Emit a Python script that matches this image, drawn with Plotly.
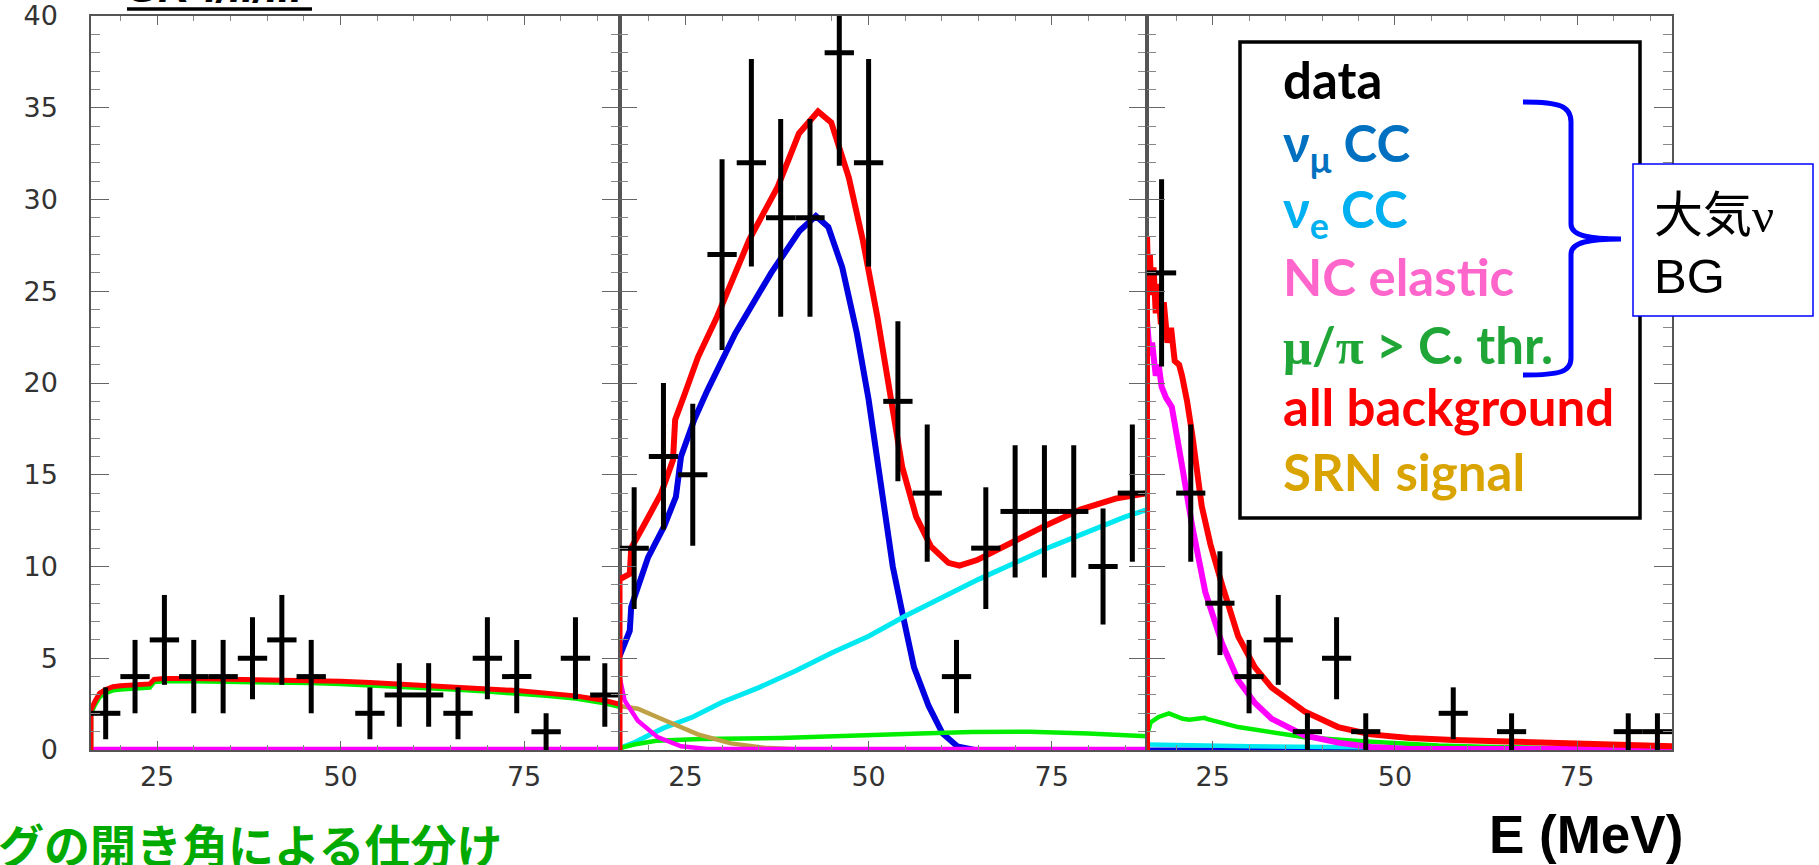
import numpy as np
import plotly.graph_objects as go

W, H = 1819, 865

# ---------------- data ----------------
E_CENTERS = [18, 22, 26, 30, 34, 38, 42, 46, 50, 54, 58, 62, 66, 70, 74, 78, 82, 86]
BIN_HALF_WIDTH = 2

DATA_P1 = [2, 4, 6, 4, 4, 5, 6, 4, 0, 2, 3, 3, 2, 5, 4, 1, 5, 3]
DATA_P2 = [11, 16, 15, 27, 32, 29, 29, 38, 32, 19, 14, 4, 11, 13, 13, 13, 10, 14]
DATA_P3 = [26, 14, 8, 4, 6, 1, 5, 1, 0, 0, 2, 0, 1, 0, 0, 0, 1, 1]

# panel 1 curves
P1_X = [16, 16, 16.6, 17.2, 18, 19, 20, 22, 24, 24.6, 26, 30, 34, 38, 42, 46, 50, 54, 58, 62, 66, 70, 74, 78, 82, 86, 88]
P1_RED = [0, 2.2, 2.7, 3.1, 3.3, 3.45, 3.5, 3.55, 3.6, 3.85, 3.9, 3.9, 3.88, 3.86, 3.83, 3.8, 3.74, 3.68, 3.6, 3.52, 3.44, 3.34, 3.24, 3.1, 2.95, 2.7, 2.5]
P1_GREEN = [0, 2.0, 2.5, 2.9, 3.1, 3.25, 3.3, 3.35, 3.4, 3.7, 3.75, 3.75, 3.73, 3.71, 3.68, 3.65, 3.59, 3.53, 3.45, 3.37, 3.29, 3.19, 3.09, 2.95, 2.8, 2.55, 2.35]
P1_FLAT_X = [16, 88]
P1_MAGENTA = [0.06, 0.06]
P1_CYAN = [0.03, 0.03]
P1_BLUE = [0.01, 0.01]

# panel 2 curves
P2_RED_X = [16, 16, 17.4, 17.6, 19.4, 21.7, 23.3, 23.6, 24.9, 26.7, 29.3, 33.7, 37.6, 40.5, 43.1, 44.9, 47.3, 49.2, 51.2, 53.0, 54.6, 56.5, 58.5, 60.9, 62.4, 64.8, 69.2, 74.0, 78.9, 83.7, 88]
P2_RED = [0, 9.3, 9.6, 11.0, 12.3, 14.0, 15.8, 18.0, 19.4, 21.4, 23.6, 27.8, 30.7, 33.6, 34.8, 34.2, 31.2, 27.8, 23.6, 19.1, 15.4, 12.7, 11.1, 10.2, 10.05, 10.35, 11.25, 12.2, 13.1, 13.7, 14.0]
P2_BLUE_X = [16, 17.4, 17.6, 19.9, 22.1, 23.7, 24.4, 26.2, 28.0, 31.8, 36.7, 40.6, 42.8, 44.5, 46.4, 48.4, 50.0, 51.3, 53.3, 54.7, 56.2, 58.2, 60.1, 62.1, 64.5, 88]
P2_BLUE = [5.1, 6.5, 7.8, 10.5, 12.2, 13.8, 16.0, 18.0, 19.6, 22.7, 26.0, 28.3, 29.1, 28.5, 26.3, 22.7, 19.1, 15.4, 10.0, 7.3, 4.5, 2.4, 0.9, 0.2, 0.0, 0.0]
P2_CYAN_X = [16, 18, 20, 22, 26, 30, 35, 40, 45, 50, 55, 60, 65, 70, 75, 80, 85, 88]
P2_CYAN = [0.1, 0.4, 0.8, 1.2, 1.8, 2.6, 3.4, 4.3, 5.3, 6.2, 7.3, 8.3, 9.3, 10.2, 11.1, 11.9, 12.7, 13.1]
P2_MAGENTA_X = [16, 16.7, 18.5, 21.2, 24.4, 28, 88]
P2_MAGENTA = [4.0, 2.7, 1.6, 0.7, 0.2, 0.06, 0.06]
P2_GREEN_X = [16, 18, 21, 27, 38, 48, 57, 64, 72, 80, 88]
P2_GREEN = [0.1, 0.3, 0.5, 0.6, 0.65, 0.75, 0.9, 0.98, 1.0, 0.9, 0.75]
P2_GOLD_X = [16, 18.5, 22, 26.7, 31.2, 35.8, 40, 48]
P2_GOLD = [2.4, 2.25, 1.65, 0.85, 0.36, 0.12, 0.04, 0.0]

# panel 3 curves
P3_RED_X = [16, 16, 16.2, 16.4, 16.6, 16.9, 17.2, 17.5, 17.9, 18.3, 18.8, 19.3, 19.8, 20.4, 20.8, 21.5, 22.2, 23.5, 24.7, 26.3, 28.5, 30.8, 33.1, 37.6, 42.2, 46.7, 52, 58, 66, 74, 82, 88]
P3_RED = [0, 28.0, 25.0, 27.0, 24.8, 26.3, 23.8, 25.4, 23.2, 24.4, 22.2, 23.0, 21.2, 21.0, 20.4, 19.0, 17.2, 13.3, 11.2, 9.0, 6.2, 4.5, 3.4, 2.1, 1.25, 0.85, 0.65, 0.55, 0.45, 0.4, 0.3, 0.2]
P3_MAGENTA_X = [16, 16.4, 16.7, 17.2, 17.6, 18.0, 18.6, 19.4, 20.8, 22.2, 24.0, 26.3, 28.5, 30.8, 33.1, 37.6, 42.2, 46.7, 52, 88]
P3_MAGENTA = [23.4, 21.5, 22.2, 20.4, 21.0, 19.8, 19.2, 18.7, 15.5, 12.2, 8.6, 5.8, 3.8, 2.56, 1.7, 0.8, 0.4, 0.16, 0.06, 0.05]
P3_GREEN_X = [16, 16.5, 17.6, 19.0, 20.9, 21.8, 23.9, 24.2, 28.5, 32.7, 37.6, 44.4, 50, 56, 62, 70, 80, 88]
P3_GREEN = [0.8, 1.5, 1.8, 2.0, 1.7, 1.65, 1.75, 1.7, 1.25, 1.0, 0.7, 0.5, 0.35, 0.25, 0.18, 0.1, 0.05, 0.02]
P3_CYAN_X = [16, 30, 60, 88]
P3_CYAN = [0.3, 0.2, 0.1, 0.05]
P3_BLUE_X = [16, 88]
P3_BLUE = [0.02, 0.0]

X_RANGE = [16, 88]
Y_RANGE = [0, 40]
X_MAJOR_TICKS = [25, 50, 75]
X_MINOR_TICKS = [20, 25, 30, 35, 40, 45, 50, 55, 60, 65, 70, 75, 80, 85]

LEGEND_ITEMS = [
    ("<b>data</b>", "#000000"),
    ("<b>ν<sub>μ</sub> CC</b>", "#0070C0"),
    ("<b>ν<sub>e</sub> CC</b>", "#00B0F0"),
    ("<b>NC elastic</b>", "#FF66CC"),
    ("<b><span style='font-family:Liberation Serif'>μ</span>/<span style='font-family:Liberation Serif'>π</span> &gt; C. thr.</b>", "#1FA637"),
    ("<b>all background</b>", "#FF0000"),
    ("<b>SRN signal</b>", "#D9A300"),
]

# colours
C_RED = "#FF0000"
C_BLUE = "#0000E0"
C_CYAN = "#00E8F0"
C_MAGENTA = "#FF00FF"
C_GREEN = "#00EE00"
C_GOLD = "#BFA145"


def px(p):
    return p / W


def py(p):
    return 1 - p / H


fig = go.Figure()

PANEL_EDGES = [91, 619.5, 1147, 1672]
Y_DOM = [py(750), py(16)]


def add_line(x, y, color, width, k):
    fig.add_trace(go.Scatter(x=x, y=y, mode="lines", line=dict(color=color, width=width),
                             xaxis="x" if k == 1 else f"x{k}", yaxis="y" if k == 1 else f"y{k}",
                             hoverinfo="skip"))


def add_data(vals, k):
    xs = [e for e, v in zip(E_CENTERS, vals) if v > 0]
    ys = [v for v in vals if v > 0]
    fig.add_trace(go.Scatter(
        x=xs, y=ys, mode="markers", marker=dict(size=1, color="black"),
        error_x=dict(type="data", array=[BIN_HALF_WIDTH] * len(xs), color="black", thickness=5, width=0),
        error_y=dict(type="data", array=list(np.sqrt(ys)), color="black", thickness=5, width=0),
        xaxis="x" if k == 1 else f"x{k}", yaxis="y" if k == 1 else f"y{k}", hoverinfo="skip"))


# panel 1
add_line(P1_FLAT_X, P1_BLUE, C_BLUE, 4, 1)
add_line(P1_FLAT_X, P1_CYAN, C_CYAN, 4, 1)
add_line(P1_X, P1_GREEN, C_GREEN, 4.5, 1)
add_line(P1_FLAT_X, P1_MAGENTA, C_MAGENTA, 4.5, 1)
add_line(P1_X, P1_RED, C_RED, 5, 1)
add_data(DATA_P1, 1)

# panel 2
add_line(P2_BLUE_X, P2_BLUE, C_BLUE, 6, 2)
add_line(P2_CYAN_X, P2_CYAN, C_CYAN, 5, 2)
add_line(P2_GREEN_X, P2_GREEN, C_GREEN, 4.5, 2)
add_line(P2_GOLD_X, P2_GOLD, C_GOLD, 4.5, 2)
add_line(P2_MAGENTA_X, P2_MAGENTA, C_MAGENTA, 4.5, 2)
add_line(P2_RED_X, P2_RED, C_RED, 6, 2)
add_data(DATA_P2, 2)

# panel 3
add_line(P3_BLUE_X, P3_BLUE, C_BLUE, 4.5, 3)
add_line(P3_CYAN_X, P3_CYAN, C_CYAN, 4.5, 3)
add_line(P3_GREEN_X, P3_GREEN, C_GREEN, 4.5, 3)
add_line(P3_MAGENTA_X, P3_MAGENTA, C_MAGENTA, 6, 3)
add_line(P3_RED_X, P3_RED, C_RED, 6, 3)
add_data(DATA_P3, 3)

tick_font = dict(family="DejaVu Sans, Liberation Sans, sans-serif", size=27, color="#333333")

layout = dict(width=W, height=H, margin=dict(l=0, r=0, t=0, b=0, autoexpand=False),
              paper_bgcolor="white", plot_bgcolor="white", showlegend=False)

for k in range(1, 4):
    xname = "xaxis" if k == 1 else f"xaxis{k}"
    yname = "yaxis" if k == 1 else f"yaxis{k}"
    layout[xname] = dict(
        domain=[px(PANEL_EDGES[k - 1]), px(PANEL_EDGES[k])], range=X_RANGE,
        anchor="y" if k == 1 else f"y{k}", automargin=False,
        showline=True, linecolor="#555555", linewidth=1.5, mirror="ticks",
        ticks="inside", tickmode="array", tickvals=X_MAJOR_TICKS, ticklen=9, tickwidth=1.3,
        tickcolor="#666666", showgrid=False, zeroline=False, tickfont=tick_font,
        ticklabelstandoff=2,
        minor=dict(tickmode="array", tickvals=X_MINOR_TICKS, ticks="inside", ticklen=5,
                   tickwidth=1, tickcolor="#888888", showgrid=False),
    )
    layout[yname] = dict(
        domain=Y_DOM, range=Y_RANGE, anchor="x" if k == 1 else f"x{k}", automargin=False,
        showline=True, linecolor="#555555", linewidth=1.5, mirror="ticks",
        ticks="inside", dtick=5, tick0=0, ticklen=18, tickwidth=1.3, tickcolor="#666666",
        showgrid=False, zeroline=False, tickfont=tick_font, showticklabels=(k == 1),
        ticklabelstandoff=26,
        minor=dict(dtick=1, tick0=0, ticks="inside", ticklen=9, tickwidth=1,
                   tickcolor="#888888", showgrid=False),
    )

fig.update_layout(**layout)

# ---------------- overlays ----------------
shapes = []
# legend box
shapes.append(dict(type="rect", xref="paper", yref="paper", x0=px(1240), x1=px(1640),
                   y0=py(518), y1=py(42), line=dict(color="black", width=3.5), fillcolor="white",
                   layer="above"))


def path_px(points):
    s = ""
    for cmd, pts in points:
        s += cmd + " " + " ".join(f"{px(a):.5f},{py(b):.5f}" for a, b in pts) + " "
    return s.strip()


bracket = path_px([
    ("M", [(1523, 102)]),
    ("C", [(1560, 102), (1571, 106), (1571, 122)]),
    ("L", [(1571, 224)]),
    ("C", [(1571, 236), (1590, 239), (1621, 239)]),
    ("C", [(1590, 239), (1571, 242), (1571, 254)]),
    ("L", [(1571, 358)]),
    ("C", [(1571, 372), (1560, 375), (1523, 375)]),
])
shapes.append(dict(type="path", xref="paper", yref="paper", path=bracket,
                   line=dict(color="#0000FF", width=5), layer="above"))
# 大気ν BG box
shapes.append(dict(type="rect", xref="paper", yref="paper", x0=px(1633), x1=px(1813),
                   y0=py(316), y1=py(164), line=dict(color="#0000FF", width=1.5), fillcolor="white",
                   layer="above"))
# title underline
shapes.append(dict(type="line", xref="paper", yref="paper", x0=px(127), x1=px(312),
                   y0=py(9), y1=py(9), line=dict(color="black", width=3.5), layer="above"))

annotations = []
LEGEND_Y = [80, 146, 212, 276, 344, 407, 471]
for (txt, col), yy in zip(LEGEND_ITEMS, LEGEND_Y):
    annotations.append(dict(text=txt, xref="paper", yref="paper", x=px(1281), y=py(yy),
                            xanchor="left", yanchor="middle", showarrow=False,
                            font=dict(family="Lato, Noto Sans, sans-serif", size=51, color=col)))

annotations.append(dict(text="<span style='font-family:Noto Sans CJK JP'>大気</span><span style='font-family:Liberation Serif'>ν</span>",
                        xref="paper", yref="paper", x=px(1652), y=py(210), xanchor="left",
                        yanchor="middle", showarrow=False,
                        font=dict(family="Noto Sans CJK JP", size=49, color="black")))
annotations.append(dict(text="BG", xref="paper", yref="paper", x=px(1652), y=py(276), xanchor="left",
                        yanchor="middle", showarrow=False,
                        font=dict(family="Liberation Sans, Arial, sans-serif", size=49, color="black")))
annotations.append(dict(text="<b>E (MeV)</b>", xref="paper", yref="paper", x=px(1586), y=py(834),
                        xanchor="center", yanchor="middle", showarrow=False,
                        font=dict(family="Liberation Sans, Arial, sans-serif", size=53, color="black")))
annotations.append(dict(text="<b>グの開き角による仕分け</b>", xref="paper", yref="paper", x=px(505),
                        y=py(843), xanchor="right", yanchor="middle", showarrow=False,
                        font=dict(family="Noto Sans CJK JP", size=46, color="#00AA00")))
annotations.append(dict(text="<b><i>SK-I/II/III</i></b>", xref="paper", yref="paper", x=px(127),
                        y=py(13), xanchor="left", yanchor="bottom", showarrow=False,
                        font=dict(family="Liberation Sans, Arial, sans-serif", size=44, color="black")))

fig.update_layout(shapes=shapes, annotations=annotations)

fig.write_html("out.html")
